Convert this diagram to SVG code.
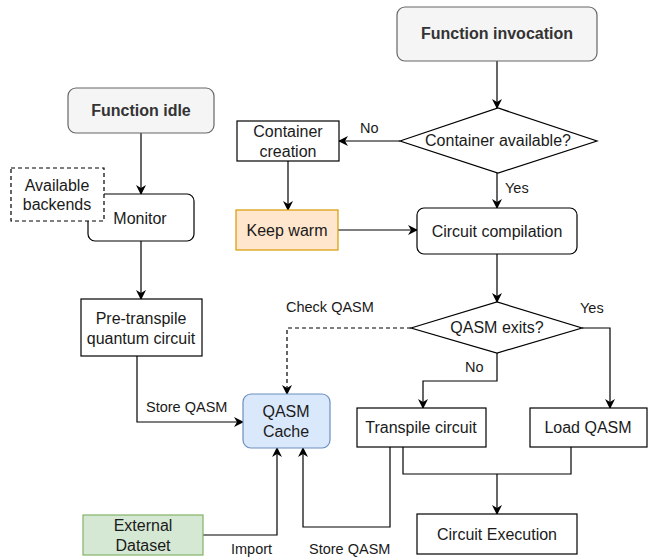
<svg xmlns="http://www.w3.org/2000/svg" width="648" height="558" viewBox="0 0 648 558">
  <defs>
    <marker id="arrow" viewBox="0 0 10 10" refX="9" refY="5" markerWidth="10" markerHeight="10" markerUnits="userSpaceOnUse" orient="auto">
      <path d="M0,0 L10,5 L0,10 L3,5 z" fill="#000"/>
    </marker>
    <style>
      text { font-family: "Liberation Sans", Arial, Helvetica, sans-serif; fill: #1a1a1a; }
      .t { font-size: 16px; text-anchor: middle; }
      .b { font-weight: bold; fill: #333; }
      .lbl { font-size: 14.5px; }
      .box { fill: #fff; stroke: #000; stroke-width: 1.2; }
      .start { fill: #f5f5f5; stroke: #666; stroke-width: 1.2; }
      .warm { fill: #ffe6cc; stroke: #d79b00; stroke-width: 1.2; }
      .cache { fill: #dae8fc; stroke: #6c8ebf; stroke-width: 1.2; }
      .data { fill: #d5e8d4; stroke: #82b366; stroke-width: 1.2; }
      .dash { fill: #fff; stroke: #000; stroke-width: 1.2; stroke-dasharray: 4 3; }
      .edge { fill: none; stroke: #000; stroke-width: 1.2; marker-end: url(#arrow); }
      .plain { fill: none; stroke: #000; stroke-width: 1.2; }
      .dashed { stroke-dasharray: 4 3; }
    </style>
  </defs>

  <!-- connectors -->
  <g id="connectors">
    <path class="edge" d="M497,61 V108"/>
    <path class="edge" d="M400,141 H339"/>
    <path class="edge" d="M497,173 V208"/>
    <path class="edge" d="M288,161 V210"/>
    <path class="edge" d="M338,230 H417"/>
    <path class="edge" d="M497,254 V302"/>
    <path class="edge" d="M582,328 H610 V408"/>
    <path class="edge" d="M497,353 V381 H423 V408"/>
    <path class="plain" d="M403,447 V474 H571 V447"/>
    <path class="edge" d="M497,474 V514"/>
    <path class="edge dashed" d="M411,328 H287 V394"/>
    <path class="edge" d="M141,133 V194"/>
    <path class="edge" d="M141,241 V299"/>
    <path class="edge" d="M137,356 V422 H243"/>
    <path class="edge" d="M203,535 H277 V448"/>
    <path class="edge" d="M390,447 V527 H303 V448"/>
    <text class="lbl" x="360" y="133">No</text>
    <text class="lbl" x="505" y="193">Yes</text>
    <text class="lbl" x="580" y="313">Yes</text>
    <text class="lbl" x="465" y="372">No</text>
    <text class="lbl" x="286" y="312">Check QASM</text>
    <text class="lbl" x="146" y="412">Store QASM</text>
    <text class="lbl" x="231" y="554">Import</text>
    <text class="lbl" x="309" y="554">Store QASM</text>
  </g>

  <g id="function-invocation">
    <rect class="start" x="397" y="7" width="200" height="54" rx="8"/>
    <text class="t b" x="497" y="39">Function invocation</text>
  </g>

  <g id="container-available">
    <path class="box" d="M400,141 L498,108 L597,141 L498,173 Z"/>
    <text class="t" x="498" y="146">Container available?</text>
  </g>

  <g id="container-creation">
    <rect class="box" x="237" y="121" width="102" height="40"/>
    <text class="t" x="288" y="137">Container</text>
    <text class="t" x="288" y="157">creation</text>
  </g>

  <g id="keep-warm">
    <rect class="warm" x="236" y="210" width="102" height="40"/>
    <text class="t" x="287" y="236">Keep warm</text>
  </g>

  <g id="circuit-compilation">
    <rect class="box" x="417" y="208" width="160" height="46" rx="7"/>
    <text class="t" x="497" y="237">Circuit compilation</text>
  </g>

  <g id="qasm-exists">
    <path class="box" d="M411,328 L497,302 L582,328 L497,353 Z"/>
    <text class="t" x="497" y="333">QASM exits?</text>
  </g>

  <g id="transpile-circuit">
    <rect class="box" x="357" y="408" width="129" height="39"/>
    <text class="t" x="421" y="433">Transpile circuit</text>
  </g>

  <g id="load-qasm">
    <rect class="box" x="530" y="408" width="117" height="39"/>
    <text class="t" x="588" y="433">Load QASM</text>
  </g>

  <g id="circuit-execution">
    <rect class="box" x="417" y="514" width="160" height="40"/>
    <text class="t" x="497" y="540">Circuit Execution</text>
  </g>

  <g id="function-idle">
    <rect class="start" x="68" y="88" width="146" height="45" rx="8"/>
    <text class="t b" x="141" y="116">Function idle</text>
  </g>

  <g id="monitor">
    <rect class="box" x="88" y="194" width="106" height="47" rx="7"/>
    <text class="t" x="140" y="224">Monitor</text>
  </g>

  <g id="available-backends">
    <rect class="dash" x="11" y="168" width="93" height="53"/>
    <text class="t" x="57" y="191">Available</text>
    <text class="t" x="57" y="210">backends</text>
  </g>

  <g id="pre-transpile">
    <rect class="box" x="81" y="299" width="121" height="57"/>
    <text class="t" x="141" y="324">Pre-transpile</text>
    <text class="t" x="141" y="344">quantum circuit</text>
  </g>

  <g id="qasm-cache">
    <rect class="cache" x="243" y="394" width="87" height="54" rx="8"/>
    <text class="t" x="286" y="417">QASM</text>
    <text class="t" x="286" y="437">Cache</text>
  </g>

  <g id="external-dataset">
    <rect class="data" x="83" y="515" width="120" height="40"/>
    <text class="t" x="143" y="531">External</text>
    <text class="t" x="143" y="551">Dataset</text>
  </g>
</svg>
